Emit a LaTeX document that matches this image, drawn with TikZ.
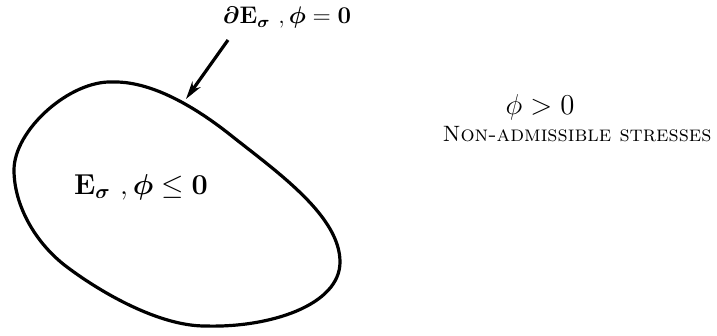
\documentclass[tikz,border=0pt]{standalone}
\usepackage{amsmath,amssymb,bm}
\usetikzlibrary{arrows.meta}
\tikzset{
  lbl/.style={inner sep=0pt, font=\large},
  biglbl/.style={inner sep=0pt, font=\Large},
  boundary/.style={line width=1.6pt, line join=round},
  pointer/.style={line width=1.6pt, -{Stealth[length=9pt,width=5pt]}}
}
\begin{document}
\begin{tikzpicture}[x=0.5pt,y=-0.5pt]
\useasboundingbox (0,0) rectangle (717,336);
\coordinate (T) at (113,82);
\coordinate (Q) at (233,137);
\coordinate (R) at (340,262);
\coordinate (B) at (205,326);
\coordinate (M) at (67,267);
\coordinate (L) at (14,170);
\draw[boundary] (T) .. controls (155,81) and (202,112) .. (Q)
  .. controls (280,174) and (340,217) .. (R)
  .. controls (340,305) and (270,328) .. (B)
  .. controls (160,326) and (103,294) .. (M)
  .. controls (35,243) and (14,205) .. (L)
  .. controls (14,130) and (70,80) .. (T) -- cycle;
\node[lbl] (top) at (287,18) {$\bm{\partial}\mathbf{E}_{\bm\sigma}\ ,\bm{\phi}=\mathbf{0}$};
\node[biglbl] (inside) at (141,187) {$\mathbf{E}_{\bm\sigma}\ ,\bm{\phi}\leq\mathbf{0}$};
\node[biglbl] (phi) at (540,107) {$\phi>0$};
\node[inner sep=0pt, font=\fontsize{11.1}{13}\selectfont] (nonadm) at (577,134) {\textsc{Non-admissible stresses}};
\coordinate (astart) at (228,40);
\coordinate (aend) at (186,99);
\draw[pointer] (astart) -- (aend);
\end{tikzpicture}
\end{document}
